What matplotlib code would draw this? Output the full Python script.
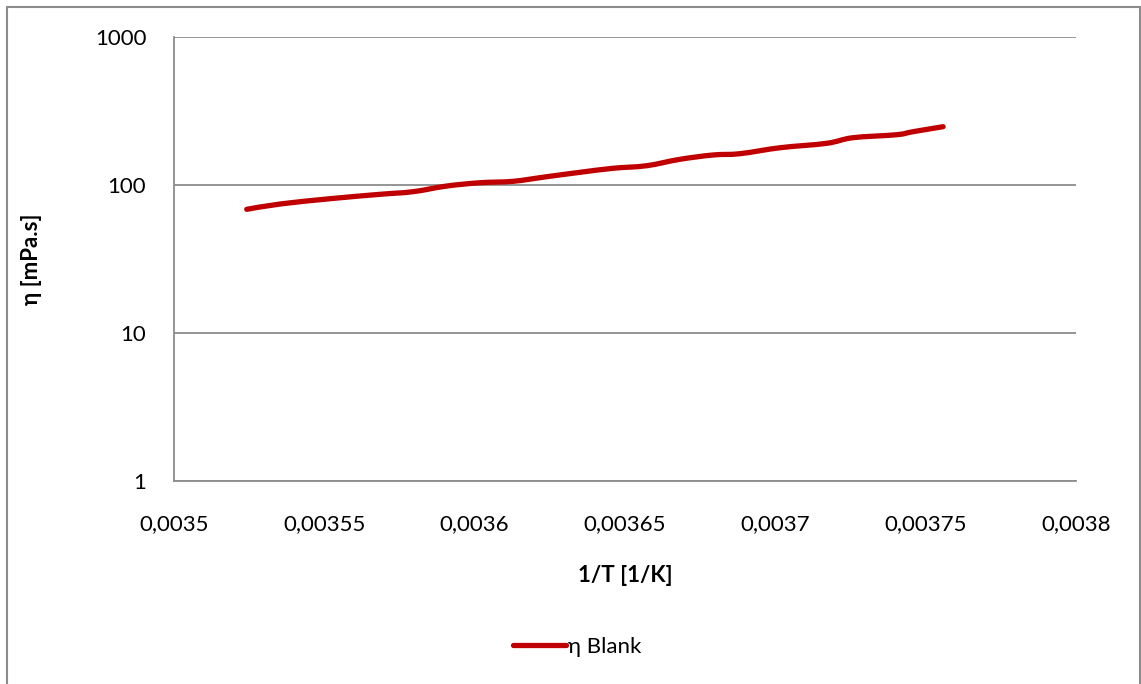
import matplotlib
matplotlib.use("Agg")
import matplotlib.pyplot as plt
import numpy as np
from matplotlib.patches import Rectangle, PathPatch
from matplotlib.path import Path
from matplotlib.lines import Line2D

inv_T = [0.0035242, 0.0035353, 0.0035519, 0.0035685, 0.0035795, 0.0035907,
         0.0036018, 0.0036128, 0.0036240, 0.0036350, 0.0036460, 0.0036572,
         0.0036683, 0.0036793, 0.0036883, 0.0037016, 0.0037171, 0.0037258,
         0.0037404, 0.0037458, 0.0037558]
eta_blank = [68.5, 74.4, 80.8, 86.5, 90.1, 98.4,
             103.6, 105.9, 113.8, 121.8, 129.7, 135.0,
             149.2, 159.5, 162.8, 178.6, 191.3, 208.7,
             218.7, 229.2, 247.7]

x_ticks = [0.0035, 0.00355, 0.0036, 0.00365, 0.0037, 0.00375, 0.0038]
x_tick_labels = ["0,0035", "0,00355", "0,0036", "0,00365", "0,0037", "0,00375", "0,0038"]
y_ticks = [1, 10, 100, 1000]
y_tick_labels = ["1", "10", "100", "1000"]

plt.rcParams['font.family'] = ['Lato', 'DejaVu Sans']

W, H = 1141, 684
fig = plt.figure(figsize=(W / 100, H / 100), dpi=100)
ax = fig.add_axes([174 / W, 1 - 481 / H, (1076 - 174) / W, (481 - 37) / H])

grid_col = "#8c8c8c"
red = "#C00000"
fs = 16
ax.set_yscale("log")
ax.set_xlim(0.0035, 0.0038)
ax.set_ylim(1, 1000)
ax.set_xticks(x_ticks)
ax.set_xticklabels(x_tick_labels)
ax.set_yticks(y_ticks)
ax.set_yticklabels(y_tick_labels)
ax.minorticks_off()
ax.tick_params(axis="both", length=0, labelsize=fs, colors="black")
ax.tick_params(axis="x", pad=24)
ax.tick_params(axis="y", pad=20)
ax.yaxis.grid(True, color=grid_col, linewidth=1.3)
ax.set_axisbelow(True)
for s in ["top", "right"]:
    ax.spines[s].set_visible(False)
for s in ["left", "bottom"]:
    ax.spines[s].set_color(grid_col)
    ax.spines[s].set_linewidth(1.3)

# smoothed line (Catmull-Rom style bezier, like a spreadsheet "smoothed line")
px = np.array(inv_T)
py = np.log10(np.array(eta_blank))
verts = [(px[0], py[0])]
codes = [Path.MOVETO]
n = len(px)
t = 1.0 / 6.0
for i in range(n - 1):
    p0 = (px[i - 1], py[i - 1]) if i > 0 else (px[i], py[i])
    p1 = (px[i], py[i])
    p2 = (px[i + 1], py[i + 1])
    p3 = (px[i + 2], py[i + 2]) if i + 2 < n else (px[i + 1], py[i + 1])
    c1 = (p1[0] + (p2[0] - p0[0]) * t, p1[1] + (p2[1] - p0[1]) * t)
    c2 = (p2[0] - (p3[0] - p1[0]) * t, p2[1] - (p3[1] - p1[1]) * t)
    verts += [c1, c2, p2]
    codes += [Path.CURVE4] * 3
verts = [(vx, 10 ** vy) for vx, vy in verts]
path = Path(verts, codes)
ax.add_patch(PathPatch(path, facecolor="none", edgecolor=red, linewidth=3.8,
                       capstyle="round", joinstyle="round"))

ax.set_xlabel("1/T [1/K]", fontsize=fs, fontweight="bold", labelpad=22)
ax.set_ylabel("η [mPa.s]", fontsize=fs, fontweight="bold", labelpad=38)

handle = Line2D([], [], color=red, linewidth=3.8, solid_capstyle="round")
leg = fig.legend([handle], ["η Blank"], loc="center",
                 bbox_to_anchor=(577 / W, 1 - 647 / H),
                 frameon=False, fontsize=fs, handlelength=2.4,
                 handletextpad=0.05)

fig.patches.append(Rectangle((7 / W, -0.1), (1140 - 7) / W, 1.1 - 7 / H,
                             transform=fig.transFigure, fill=False,
                             edgecolor="#8c8c8c", linewidth=1.5))

fig.savefig("out.png", dpi=100)
